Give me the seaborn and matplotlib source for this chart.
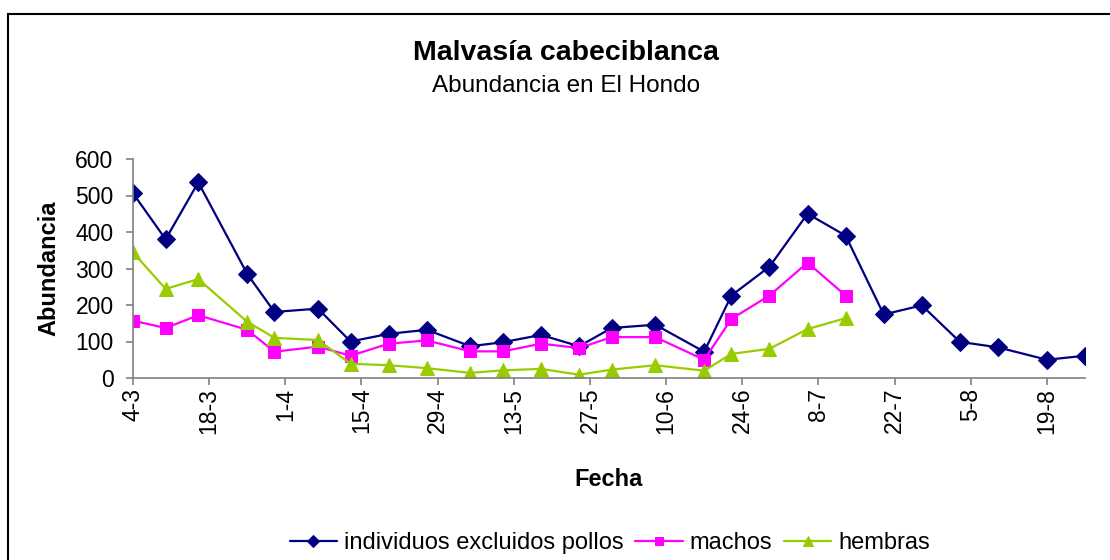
import matplotlib
matplotlib.use("Agg")
import matplotlib.pyplot as plt
import matplotlib.patches as mpatches
import seaborn as sns
import pandas as pd

# ---- data ----
fechas_total = ["2007-03-04", "2007-03-10", "2007-03-16", "2007-03-25", "2007-03-30",
                "2007-04-07", "2007-04-13", "2007-04-20", "2007-04-27", "2007-05-05",
                "2007-05-11", "2007-05-18", "2007-05-25", "2007-05-31", "2007-06-08",
                "2007-06-17", "2007-06-22", "2007-06-29", "2007-07-06", "2007-07-13",
                "2007-07-20", "2007-07-27", "2007-08-03", "2007-08-10", "2007-08-19",
                "2007-08-26"]
individuos = [506, 380, 536, 285, 181, 190, 100, 121, 132, 87, 98, 118, 87,
              137, 146, 72, 226, 305, 450, 390, 174, 199, 99, 84, 50, 61]
machos = [157, 137, 172, 132, 72, 86, 61, 94, 103, 73, 73, 94, 82, 112, 112,
          50, 162, 226, 316, 226]
hembras = [344, 244, 271, 154, 110, 104, 39, 35, 27, 14, 21, 25, 9, 23, 35,
           20, 66, 80, 134, 164]
tick_fechas = ["2007-03-04", "2007-03-18", "2007-04-01", "2007-04-15", "2007-04-29",
               "2007-05-13", "2007-05-27", "2007-06-10", "2007-06-24", "2007-07-08",
               "2007-07-22", "2007-08-05", "2007-08-19"]
tick_labels = ["4-3", "18-3", "1-4", "15-4", "29-4", "13-5", "27-5", "10-6",
               "24-6", "8-7", "22-7", "5-8", "19-8"]
y_ticks = [0, 100, 200, 300, 400, 500, 600]

sns.set_style("white")
plt.rcParams["font.family"] = ["Liberation Sans", "DejaVu Sans"]
plt.rcParams["text.color"] = "black"
plt.rcParams["axes.labelcolor"] = "black"
plt.rcParams["xtick.color"] = "black"
plt.rcParams["ytick.color"] = "black"

fig = plt.figure(figsize=(11.1, 5.6), dpi=100)
W, H = 1110, 560
ax = fig.add_axes([133 / W, 1 - 378 / H, (1085 - 133) / W, (378 - 159) / H])

x_all = pd.to_datetime(fechas_total)
n_sex = len(machos)

sns.lineplot(x=x_all, y=individuos, ax=ax, color="#000080", marker="D",
             markersize=9, mec="#000080", mfc="#000080", lw=1.6,
             label="individuos excluidos pollos")
sns.lineplot(x=x_all[:n_sex], y=machos, ax=ax, color="#FF00FF", marker="s",
             markersize=8.5, mec="#FF00FF", mfc="#FF00FF", lw=1.6, label="machos")
sns.lineplot(x=x_all[:len(hembras)], y=hembras, ax=ax, color="#99CC00", marker="^",
             markersize=10, mec="#99CC00", mfc="#99CC00", lw=1.6, label="hembras")

ax.set_xlim(x_all[0], x_all[-1])
ax.set_ylim(0, 600)
ax.set_yticks(y_ticks)
ax.set_yticklabels([str(v) for v in y_ticks], fontsize=16.5)
ax.set_xticks(pd.to_datetime(tick_fechas))
ax.set_xticklabels(tick_labels, rotation=90, fontsize=16.5)

for s in ["top", "right"]:
    ax.spines[s].set_visible(False)
for s in ["left", "bottom"]:
    ax.spines[s].set_color("#808080")
    ax.spines[s].set_linewidth(1.2)
ax.tick_params(axis="both", direction="out", length=5, width=1.2, color="#808080",
               labelcolor="black", left=True, bottom=True)
ax.tick_params(axis="y", pad=9)
ax.tick_params(axis="x", pad=2)

ax.set_xlabel("Fecha", fontsize=17, fontweight="bold")
ax.set_ylabel("Abundancia", fontsize=17, fontweight="bold")
ax.xaxis.set_label_coords(0.5, -0.41)
ax.yaxis.set_label_coords(-0.076, 0.5)

fig.text(566 / W, 1 - 60 / H, "Malvasía cabeciblanca", ha="center", va="baseline",
         fontsize=20.5, fontweight="bold")
fig.text(566 / W, 1 - 92 / H, "Abundancia en El Hondo", ha="center", va="baseline",
         fontsize=17.5)

if ax.legend_:
    ax.legend_.remove()
handles, labels = ax.get_legend_handles_labels()
fig.legend(handles, labels, loc="center", bbox_to_anchor=(610 / W, 1 - 543 / H),
           ncol=3, frameon=False, fontsize=17, handlelength=2.0, handletextpad=0.3,
           columnspacing=0.5, markerscale=0.7)

frame = mpatches.Rectangle((8 / W, -0.1), 1.2, 1.1 - 14 / H, transform=fig.transFigure,
                           fill=False, edgecolor="black", linewidth=1.5)
fig.patches.append(frame)

fig.savefig("out.png", dpi=100)
